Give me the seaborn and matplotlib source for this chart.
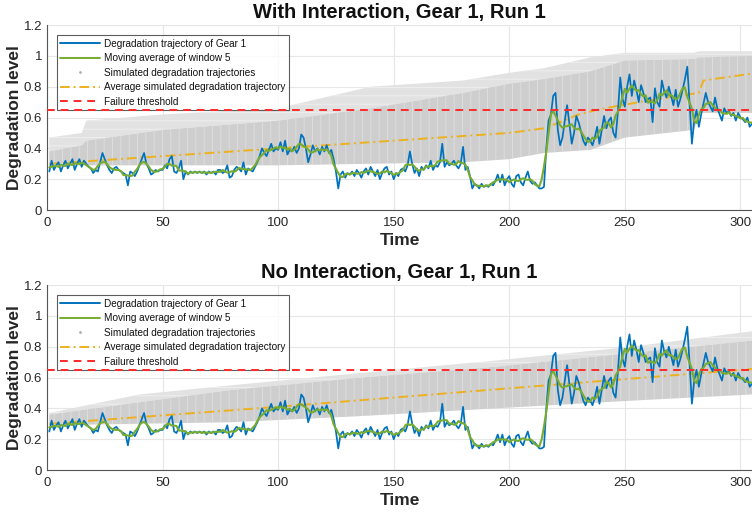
import numpy as np
import pandas as pd
import matplotlib
matplotlib.use("Agg")
import matplotlib.pyplot as plt
from matplotlib.lines import Line2D
import seaborn as sns

# Observed degradation level of Gear 1, one value per time step (t = 1..305)
gear_degradation = [
    0.25, 0.32, 0.26, 0.29, 0.31, 0.25, 0.29, 0.32, 0.27, 0.30,
    0.33, 0.26, 0.30, 0.33, 0.28, 0.32, 0.30, 0.28, 0.27, 0.24,
    0.26, 0.25, 0.31, 0.37, 0.33, 0.29, 0.26, 0.24, 0.27, 0.28,
    0.26, 0.25, 0.24, 0.23, 0.16, 0.25, 0.24, 0.22, 0.25, 0.29,
    0.33, 0.37, 0.30, 0.27, 0.23, 0.24, 0.26, 0.25, 0.26, 0.26,
    0.29, 0.27, 0.33, 0.35, 0.25, 0.24, 0.27, 0.32, 0.20, 0.25,
    0.23, 0.25, 0.24, 0.25, 0.24, 0.25, 0.24, 0.25, 0.23, 0.25,
    0.24, 0.25, 0.23, 0.26, 0.26, 0.24, 0.25, 0.29, 0.21, 0.22,
    0.26, 0.28, 0.27, 0.25, 0.31, 0.23, 0.27, 0.26, 0.25, 0.28,
    0.31, 0.35, 0.40, 0.37, 0.35, 0.39, 0.43, 0.38, 0.40, 0.39,
    0.44, 0.38, 0.45, 0.36, 0.39, 0.38, 0.41, 0.37, 0.40, 0.49,
    0.47, 0.40, 0.31, 0.36, 0.42, 0.38, 0.40, 0.36, 0.41, 0.38,
    0.42, 0.37, 0.39, 0.33, 0.25, 0.14, 0.23, 0.25, 0.21, 0.24,
    0.23, 0.25, 0.22, 0.26, 0.24, 0.21, 0.25, 0.27, 0.23, 0.28,
    0.25, 0.22, 0.26, 0.20, 0.24, 0.27, 0.28, 0.23, 0.25, 0.20,
    0.24, 0.22, 0.26, 0.27, 0.25, 0.29, 0.38, 0.30, 0.24, 0.27,
    0.22, 0.28, 0.26, 0.29, 0.27, 0.32, 0.26, 0.29, 0.28, 0.31,
    0.43, 0.28, 0.31, 0.29, 0.30, 0.32, 0.29, 0.27, 0.30, 0.41,
    0.26, 0.28, 0.22, 0.14, 0.17, 0.16, 0.14, 0.17, 0.15, 0.16,
    0.15, 0.17, 0.16, 0.19, 0.23, 0.18, 0.23, 0.16, 0.20, 0.22,
    0.17, 0.15, 0.22, 0.23, 0.18, 0.16, 0.21, 0.25, 0.19, 0.17,
    0.18, 0.16, 0.14, 0.14, 0.15, 0.40, 0.58, 0.62, 0.74, 0.76,
    0.52, 0.42, 0.47, 0.58, 0.68, 0.56, 0.43, 0.50, 0.61, 0.57,
    0.51, 0.45, 0.42, 0.47, 0.45, 0.42, 0.47, 0.54, 0.43, 0.52,
    0.61, 0.53, 0.58, 0.60, 0.50, 0.47, 0.64, 0.86, 0.72, 0.67,
    0.80, 0.88, 0.74, 0.84, 0.78, 0.70, 0.81, 0.76, 0.70, 0.72,
    0.73, 0.57, 0.79, 0.70, 0.67, 0.84, 0.77, 0.73, 0.80, 0.74,
    0.68, 0.78, 0.67, 0.72, 0.78, 0.85, 0.93, 0.69, 0.43, 0.58,
    0.65, 0.54, 0.62, 0.69, 0.76, 0.70, 0.67, 0.64, 0.73, 0.66,
    0.62, 0.58, 0.66, 0.63, 0.64, 0.61, 0.63, 0.58, 0.63, 0.60,
    0.59, 0.57, 0.60, 0.54, 0.56,
]
time_steps = list(range(1, len(gear_degradation) + 1))

failure_threshold = 0.65
ma_window = 5

# Average simulated trajectory (breakpoints)
avg_t_with = [1, 100, 200, 215, 222, 230, 238, 245, 260, 282, 284, 305]
avg_v_with = [0.30, 0.40, 0.50, 0.53, 0.57, 0.62, 0.65, 0.67, 0.71, 0.76, 0.84, 0.885]
avg_t_no = [1, 100, 200, 305]
avg_v_no = [0.30, 0.41, 0.53, 0.655]

# Envelope of the simulated trajectories: lower edge, dense upper edge, sparse upper edge
band_t_with = [1, 15, 17, 50, 100, 140, 180, 200, 215, 235, 250, 280, 282, 305]
band_lo_with = [0.29, 0.29, 0.29, 0.29, 0.29, 0.30, 0.31, 0.33, 0.37, 0.39, 0.47, 0.52, 0.63, 0.63]
band_mid_with = [0.38, 0.42, 0.45, 0.52, 0.58, 0.66, 0.76, 0.82, 0.85, 0.90, 0.97, 0.98, 0.99, 1.00]
band_hi_with = [0.47, 0.50, 0.58, 0.62, 0.66, 0.80, 0.84, 0.89, 0.92, 0.99, 1.02, 1.02, 1.03, 1.03]

band_t_no = [1, 40, 80, 136, 194, 253, 305]
band_lo_no = [0.29, 0.30, 0.31, 0.35, 0.40, 0.45, 0.49]
band_mid_no = [0.36, 0.44, 0.52, 0.60, 0.67, 0.76, 0.84]
band_hi_no = [0.37, 0.49, 0.55, 0.63, 0.71, 0.80, 0.90]

titles = ["With Interaction, Gear 1, Run 1", "No Interaction, Gear 1, Run 1"]
legend_labels = [
    "Degradation trajectory of Gear 1",
    "Moving average of window 5",
    "Simulated degradation trajectories",
    "Average simulated degradation trajectory",
    "Failure threshold",
]

C_BLUE = "#0072BD"
C_GREEN = "#77AC30"
C_ORANGE = "#EDB120"
C_RED = "#FF2A2A"
C_GREY = "#cecece"
C_GREY_LIGHT = "#e2e2e2"

sns.set_theme(style="white")
plt.rcParams["font.family"] = ["Liberation Sans", "DejaVu Sans"]
plt.rcParams["hatch.linewidth"] = 0.6

obs = pd.DataFrame({"t": time_steps, "v": gear_degradation})
obs["ma"] = obs["v"].rolling(ma_window, center=True, min_periods=1).mean()

fig = plt.figure(figsize=(7.52, 5.13), dpi=100)
ax_top = fig.add_axes([0.0625, 0.5906, 0.9375, 0.3606])
ax_bot = fig.add_axes([0.0625, 0.0838, 0.9375, 0.3606])

panels = [
    (ax_top, band_t_with, band_lo_with, band_mid_with, band_hi_with, avg_t_with, avg_v_with),
    (ax_bot, band_t_no, band_lo_no, band_mid_no, band_hi_no, avg_t_no, avg_v_no),
]

for i, (ax, bt, blo, bmid, bhi, at, av) in enumerate(panels):
    ax.set_facecolor("white")
    ax.grid(True, color="#e6e6e6", linewidth=0.8)
    ax.set_axisbelow(True)

    # simulated trajectories drawn as a band of grey dots
    ax.fill_between(bt, bmid, bhi, facecolor=C_GREY_LIGHT, edgecolor="#f0f0f0",
                    hatch="--", linewidth=0, zorder=1)
    ax.fill_between(bt, blo, bmid, facecolor=C_GREY, edgecolor="#e0e0e0",
                    hatch="||", linewidth=0, zorder=1)

    sns.lineplot(x=at, y=av, ax=ax, color=C_ORANGE, linewidth=1.4,
                 linestyle=(0, (5, 2, 1, 2)), zorder=3)
    sns.lineplot(data=obs, x="t", y="v", ax=ax, color=C_BLUE, linewidth=1.25, zorder=4)
    sns.lineplot(data=obs, x="t", y="ma", ax=ax, color=C_GREEN, linewidth=1.5, zorder=5)
    ax.axhline(failure_threshold, color=C_RED, linestyle=(0, (4, 3)), linewidth=1.4, zorder=6)

    ax.set_xlim(0, 305)
    ax.set_ylim(0, 1.2)
    ax.set_xticks([0, 50, 100, 150, 200, 250, 300])
    ax.set_yticks([0, 0.2, 0.4, 0.6, 0.8, 1.0, 1.2])
    ax.set_yticklabels(["0", "0.2", "0.4", "0.6", "0.8", "1", "1.2"])
    ax.tick_params(axis="both", direction="in", length=4, width=0.8,
                   colors="#555555", labelcolor="#262626", labelsize=9.5)
    ax.tick_params(axis="x", pad=5)
    for side in ["top", "right"]:
        ax.spines[side].set_visible(False)
    for side in ["left", "bottom"]:
        ax.spines[side].set_color("#555555")
        ax.spines[side].set_linewidth(0.8)

    ax.set_xlabel("Time", fontsize=12.5, fontweight="bold", color="#262626", labelpad=3)
    ax.set_ylabel("Degradation level", fontsize=12.5, fontweight="bold", color="#262626", labelpad=1)
    ax.set_title(titles[i], fontsize=14.5, fontweight="bold", color="#111111", pad=5)

    handles = [
        Line2D([], [], color=C_BLUE, linewidth=1.4),
        Line2D([], [], color=C_GREEN, linewidth=1.4),
        Line2D([], [], color="#b0b0b0", marker=".", markersize=2, linestyle="none"),
        Line2D([], [], color=C_ORANGE, linewidth=1.4, linestyle=(0, (5, 2, 1, 2))),
        Line2D([], [], color=C_RED, linewidth=1.4, linestyle=(0, (4, 3))),
    ]
    leg = ax.legend(handles, legend_labels, loc="upper left", bbox_to_anchor=(0.014, 0.946),
                    borderaxespad=0, fontsize=7.2, frameon=True, fancybox=False,
                    handlelength=4.0, handletextpad=0.35, borderpad=0.35, labelspacing=0.45)
    leg.get_frame().set_edgecolor("#333333")
    leg.get_frame().set_linewidth(0.8)
    for txt in leg.get_texts():
        txt.set_color("#111111")

fig.savefig("out.png", dpi=100)
